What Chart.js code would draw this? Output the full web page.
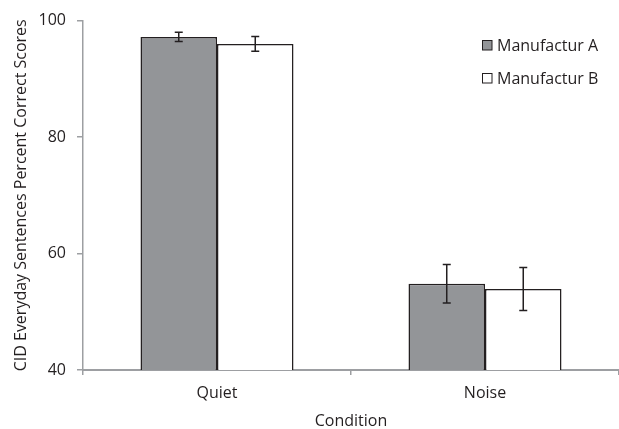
<!DOCTYPE html>
<html>
<head>
<meta charset="utf-8">
<script src="https://cdn.jsdelivr.net/npm/chart.js@4.4.1/dist/chart.umd.min.js"></script>
<style>
html,body{margin:0;padding:0;background:#fff;}
#wrap{width:619px;height:429px;position:relative;}
</style>
</head>
<body>
<div id="wrap"><canvas id="c"></canvas></div>
<script>
const categories = ['Quiet', 'Noise'];
const seriesNames = ['Manufactur A', 'Manufactur B'];
const valuesA = [97.2, 54.8];
const valuesB = [96.0, 53.9];
const errorsA = [0.8, 3.3];
const errorsB = [1.25, 3.7];
const yTicks = [40, 60, 80, 100];

const FONT = '"Open Sans", sans-serif';
const INK = '#231f20';
const AXIS = '#9d9fa2';

const errorBarPlugin = {
  id: 'errorBars',
  afterDatasetsDraw(chart) {
    const ctx = chart.ctx;
    const y = chart.scales.y;
    chart.data.datasets.forEach((ds, di) => {
      const meta = chart.getDatasetMeta(di);
      meta.data.forEach((bar, i) => {
        const v = ds.data[i], e = ds.errors[i];
        const yTop = y.getPixelForValue(v + e);
        const yBot = y.getPixelForValue(v - e);
        const x = bar.x;
        ctx.save();
        ctx.strokeStyle = INK;
        ctx.lineWidth = 1.5;
        ctx.beginPath();
        ctx.moveTo(x, yTop); ctx.lineTo(x, yBot);
        ctx.moveTo(x - 4, yTop); ctx.lineTo(x + 4, yTop);
        ctx.moveTo(x - 4, yBot); ctx.lineTo(x + 4, yBot);
        ctx.stroke();
        ctx.restore();
      });
    });
  }
};

const legendPlugin = {
  id: 'customLegend',
  afterDraw(chart) {
    const ctx = chart.ctx;
    const x0 = 482, y0 = 45, gap = 33;
    chart.data.datasets.forEach((ds, i) => {
      const cy = y0 + i * gap;
      ctx.save();
      ctx.fillStyle = ds.backgroundColor;
      ctx.fillRect(x0, cy - 5, 10, 10);
      ctx.strokeStyle = INK;
      ctx.lineWidth = 1;
      ctx.strokeRect(x0 + 0.5, cy - 4.5, 9.5, 9.5);
      ctx.fillStyle = INK;
      ctx.font = '16px ' + FONT;
      ctx.textBaseline = 'middle';
      ctx.textAlign = 'left';
      ctx.fillText(ds.label, x0 + 15, cy + 1);
      ctx.restore();
    });
  }
};

new Chart(document.getElementById('c'), {
  type: 'bar',
  data: {
    labels: categories,
    datasets: [
      { label: seriesNames[0], data: valuesA, errors: errorsA, backgroundColor: '#939598', borderColor: INK, borderWidth: 1.5 },
      { label: seriesNames[1], data: valuesB, errors: errorsB, backgroundColor: '#ffffff', borderColor: INK, borderWidth: 1.5 }
    ]
  },
  options: {
    responsive: true,
    maintainAspectRatio: false,
    animation: false,
    datasets: { bar: { categoryPercentage: 0.571, barPercentage: 1.0 } },
    layout: { padding: { top: 19, right: 0, left: 0, bottom: 0 } },
    plugins: { legend: { display: false }, tooltip: { enabled: false } },
    scales: {
      x: {
        grid: { display: true, offset: true, drawOnChartArea: false, tickLength: 5, color: AXIS, lineWidth: 1.5 },
        border: { display: true, color: AXIS, width: 2 },
        ticks: { color: INK, font: { family: FONT, size: 16 }, padding: 9 },
        title: { display: true, text: 'Condition', color: INK, font: { family: FONT, size: 16, lineHeight: 1.0 }, padding: { top: 4, bottom: 0 } },
        afterFit(scale) { scale.height = 59; }
      },
      y: {
        min: 40, max: 100,
        afterBuildTicks(scale) { scale.ticks = yTicks.map(v => ({ value: v })); },
        grid: { display: true, drawOnChartArea: false, tickLength: 6, color: AXIS, lineWidth: 1.5 },
        border: { display: true, color: AXIS, width: 1.5 },
        ticks: { color: INK, font: { family: FONT, size: 16 }, padding: 11 },
        title: { display: true, text: 'CID Everyday Sentences Percent Correct Scores', color: INK, font: { family: FONT, size: 16, lineHeight: 1.0 }, padding: { top: 13, bottom: 0 } },
        afterFit(scale) { scale.width = 83; }
      }
    }
  },
  plugins: [errorBarPlugin, legendPlugin]
});
</script>
</body>
</html>
